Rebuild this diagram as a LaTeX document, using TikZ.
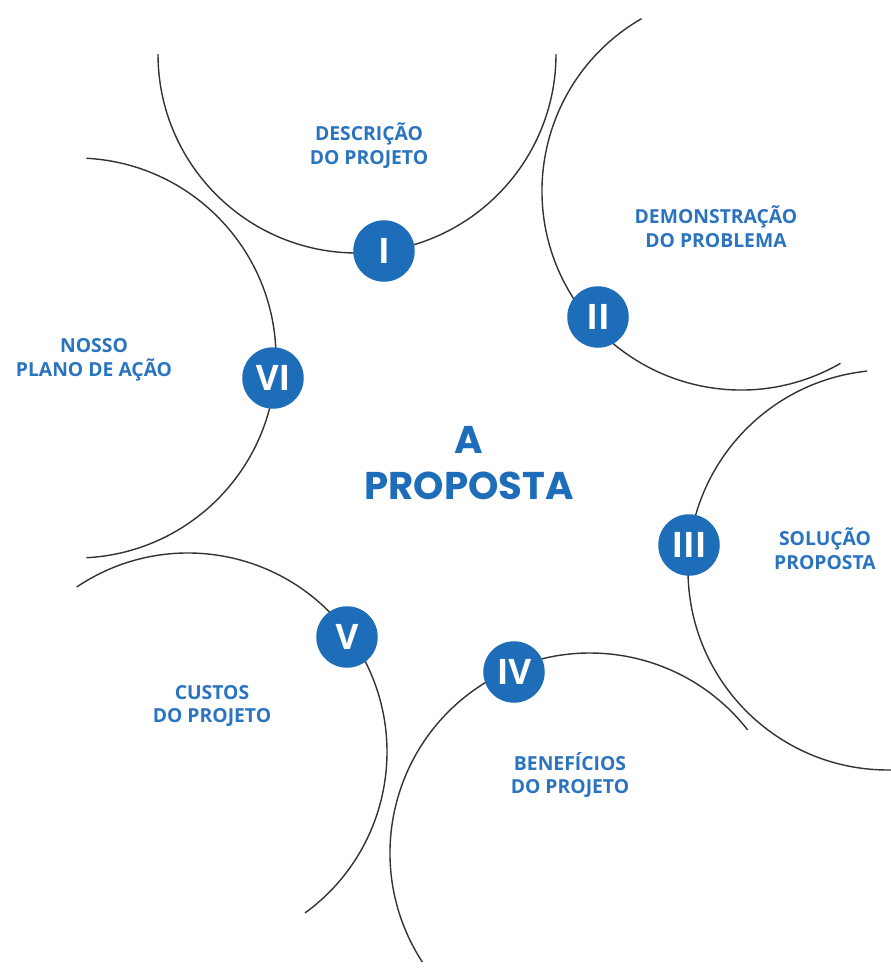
\documentclass[tikz,border=0pt]{standalone}
\usepackage{fontspec}
\setmainfont{Open Sans}
\newfontfamily\titlefont{Poppins}
\definecolor{propblue}{HTML}{1E6DB9}
\definecolor{labelblue}{HTML}{2A74BF}
\definecolor{arcgray}{HTML}{333333}

\begin{document}
\begin{tikzpicture}[x=0.02cm, y=-0.02cm]
  \tikzstyle{every node}=[font=\bfseries\fontsize{11}{13.6}\selectfont, text=labelblue, align=center]
  \tikzstyle{ring}=[draw=arcgray, line width=0.8pt]
  \tikzstyle{badge}=[circle, fill=propblue, text=white, minimum size=35pt, inner sep=0pt, font=\bfseries\fontsize{20}{20}\selectfont]
  \useasboundingbox (0,0) rectangle (891,968);
  %% centres of the six rings
  \coordinate (c1) at (357,54);
  \coordinate (c2) at (741,191);
  \coordinate (c3) at (888,570);
  \coordinate (c4) at (590,853);
  \coordinate (c5) at (188,752);
  \coordinate (c6) at (76,358);
  %%
  \draw[ring] (c1) ++(0:199) arc (0:180:199);
  \draw[ring] (c2) ++(60:199) arc (60:240:199);
  \draw[ring] (c3) ++(89:200) arc (89:264:200);
  \draw[ring] (c4) ++(147:200) arc (147:322:200);
  \draw[ring] (c5) ++(-124:199) arc (-124:54:199);
  \draw[ring] (c6) ++(-87:200) arc (-87:87:200);
  %%
  \node (b1) at (384,251) [badge] {I};
  \node (b2) at (598,317) [badge] {II};
  \node (b3) at (689,545) [badge] {III};
  \node (b4) at (514,672) [badge] {IV};
  \node (b5) at (347,637) [badge] {V};
  \node (b6) at (273,378) [badge] {VI};
  %%
  \node (t1) at (369,146) {DESCRIÇÃO\\DO PROJETO};
  \node (t2) at (716,227) {DEMONSTRAÇÃO\\DO PROBLEMA};
  \node (t3) at (94,360) {NOSSO\\PLANO DE AÇÃO};
  \node (t4) at (825,549) {SOLUÇÃO\\PROPOSTA};
  \node (t5) at (212,706) {CUSTOS\\DO PROJETO};
  \node (t6) at (570,775) {BENEFÍCIOS\\DO PROJETO};
  \node (title) at (469,463) [font=\titlefont\bfseries\fontsize{22}{26}\selectfont, text=propblue] {A\\PROPOSTA};
%
\end{tikzpicture}
\end{document}
